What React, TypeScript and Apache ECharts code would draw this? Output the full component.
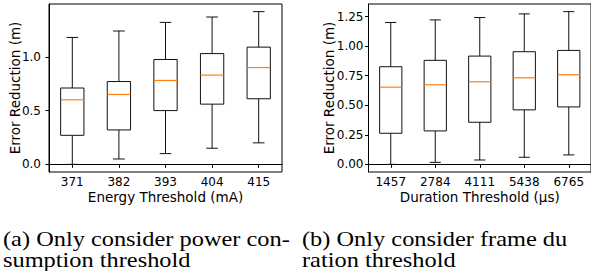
import React, { useEffect, useRef } from "react";
import * as echarts from "echarts";

// ---- Data ----
const energyCategories = ["371", "382", "393", "404", "415"];
const energyMin = [0.0, 0.05, 0.1, 0.15, 0.2];
const energyQ1 = [0.27, 0.32, 0.5, 0.56, 0.61];
const energyMedian = [0.6, 0.65, 0.78, 0.83, 0.9];
const energyQ3 = [0.71, 0.77, 0.975, 1.03, 1.09];
const energyMax = [1.18, 1.24, 1.32, 1.37, 1.42];

const durationCategories = ["1457", "2784", "4111", "5438", "6765"];
const durationMin = [0.0, 0.017, 0.037, 0.06, 0.08];
const durationQ1 = [0.263, 0.283, 0.356, 0.461, 0.486];
const durationMedian = [0.653, 0.673, 0.699, 0.732, 0.758];
const durationQ3 = [0.826, 0.88, 0.916, 0.953, 0.964];
const durationMax = [1.2, 1.222, 1.242, 1.273, 1.292];

const energyTicks = [0, 0.5, 1.0];
const durationTicks = [0, 0.25, 0.5, 0.75, 1.0, 1.25];

const captionA = ["(a) Only consider power con-", "sumption threshold"];
const captionB = ["(b) Only consider frame du", "ration threshold"];

const SANS = "DejaVu Sans";
const SERIF = "'Liberation Serif', 'Times New Roman', Times, serif";
const LINE = "#111";
const MEDIAN = "#ff7f0e";

function paddedRange(lo: number[], hi: number[]) {
  const a = Math.min(...lo);
  const b = Math.max(...hi);
  const m = (b - a) * 0.05;
  return [a - m, b + m];
}

function renderBox(_params: any, api: any) {
  const idx = api.value(0);
  const bw = api.size([1, 0])[0];
  const half = bw * 0.25;
  const capHalf = bw * 0.125;
  const pMin = api.coord([idx, api.value(1)]);
  const pQ1 = api.coord([idx, api.value(2)]);
  const pMed = api.coord([idx, api.value(3)]);
  const pQ3 = api.coord([idx, api.value(4)]);
  const pMax = api.coord([idx, api.value(5)]);
  const cx = pMin[0];
  const st = { stroke: LINE, lineWidth: 1, fill: null };
  return {
    type: "group",
    children: [
      { type: "line", shape: { x1: cx, y1: pMin[1], x2: cx, y2: pQ1[1] }, style: st },
      { type: "line", shape: { x1: cx, y1: pQ3[1], x2: cx, y2: pMax[1] }, style: st },
      { type: "line", shape: { x1: cx - capHalf, y1: pMin[1], x2: cx + capHalf, y2: pMin[1] }, style: st },
      { type: "line", shape: { x1: cx - capHalf, y1: pMax[1], x2: cx + capHalf, y2: pMax[1] }, style: st },
      {
        type: "rect",
        shape: { x: cx - half, y: pQ3[1], width: half * 2, height: pQ1[1] - pQ3[1] },
        style: { stroke: LINE, lineWidth: 1, fill: "none" },
      },
      {
        type: "line",
        shape: { x1: cx - half, y1: pMed[1], x2: cx + half, y2: pMed[1] },
        style: { stroke: MEDIAN, lineWidth: 1.2 },
      },
    ],
  };
}

function boxData(mn: number[], q1: number[], md: number[], q3: number[], mx: number[]) {
  return mn.map((_, i) => [i, mn[i], q1[i], md[i], q3[i], mx[i]]);
}

export default function App() {
  const ref = useRef<HTMLDivElement>(null);

  useEffect(() => {
    if (!ref.current) return;
    const chart = echarts.init(ref.current, undefined, { renderer: "svg" });
    const eR = paddedRange(energyMin, energyMax);
    const dR = paddedRange(durationMin, durationMax);

    const xAxisBase = (gridIndex: number, data: string[], name: string) => ({
      type: "category",
      gridIndex,
      data,
      boundaryGap: true,
      axisLine: { show: true, lineStyle: { color: "#000", width: 1 } },
      axisTick: { show: true, alignWithLabel: true, length: 3.5, lineStyle: { color: "#000" } },
      axisLabel: { color: "#000", fontSize: 12, fontFamily: SANS, margin: 4 },
      splitLine: { show: false },
      name,
      nameLocation: "middle",
      nameGap: 18,
      nameMoveOverlap: false,
      nameTextStyle: { color: "#000", fontSize: 13.5, fontFamily: SANS, verticalAlign: "top" },
    });

    const yAxisBase = (
      gridIndex: number,
      range: number[],
      ticks: number[],
      decimals: number,
      margin: number,
      nameGap: number
    ) => ({
      type: "value",
      gridIndex,
      min: range[0],
      max: range[1],
      axisLine: { show: true, lineStyle: { color: "#000", width: 1 } },
      axisTick: { show: true, length: 3.5, lineStyle: { color: "#000" }, customValues: ticks },
      axisLabel: {
        color: "#000",
        fontSize: 12,
        fontFamily: SANS,
        margin,
        customValues: ticks,
        formatter: (v: number) => v.toFixed(decimals),
      },
      splitLine: { show: false },
      name: "Error Reduction (m)",
      nameLocation: "middle",
      nameGap,
      nameMoveOverlap: false,
      nameTextStyle: { color: "#000", fontSize: 13.5, fontFamily: SANS },
    });

    const caption = (x: number, lines: string[]) =>
      lines.map((t, i) => ({
        type: "text",
        x,
        y: 238.7 + i * 21,
        scaleX: 1.134,
        style: {
          text: t,
          font: `21.5px ${SERIF}`,
          fill: "#000",
          textAlign: "left",
          textVerticalAlign: "middle",
        },
      }));

    chart.setOption({
      animation: false,
      backgroundColor: "#fff",
      grid: [
        { left: 49, top: 4, width: 233, height: 168, show: true, borderColor: "#000", borderWidth: 1, backgroundColor: "transparent" },
        { left: 368.5, top: 4, width: 225, height: 168, show: true, borderColor: "#000", borderWidth: 1, backgroundColor: "transparent" },
      ],
      xAxis: [
        xAxisBase(0, energyCategories, "Energy Threshold (mA)"),
        xAxisBase(1, durationCategories, "Duration Threshold (µs)"),
      ],
      yAxis: [
        yAxisBase(0, eR, energyTicks, 1, 8, 27),
        yAxisBase(1, dR, durationTicks, 2, 5, 33),
      ],
      series: [
        {
          type: "custom",
          xAxisIndex: 0,
          yAxisIndex: 0,
          renderItem: renderBox,
          encode: { x: 0, y: [1, 2, 3, 4, 5] },
          data: boxData(energyMin, energyQ1, energyMedian, energyQ3, energyMax),
        },
        {
          type: "custom",
          xAxisIndex: 1,
          yAxisIndex: 1,
          renderItem: renderBox,
          encode: { x: 0, y: [1, 2, 3, 4, 5] },
          data: boxData(durationMin, durationQ1, durationMedian, durationQ3, durationMax),
        },
      ],
      graphic: [...caption(3, captionA), ...caption(302, captionB)],
    });

    return () => chart.dispose();
  }, []);

  return (
    <div
      ref={ref}
      style={{ position: "fixed", left: 0, top: 0, width: 591, height: 271, background: "#fff" }}
    />
  );
}
